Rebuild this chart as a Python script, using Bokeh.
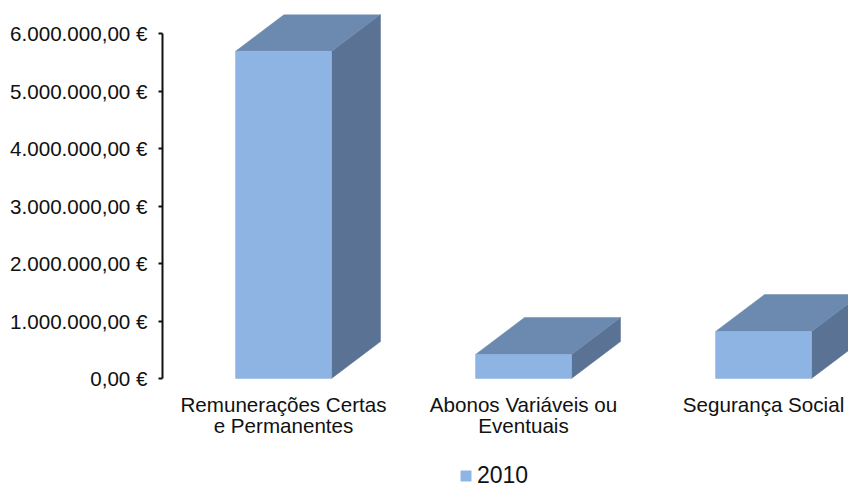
from bokeh.plotting import figure
from bokeh.models import FixedTicker, Legend, LegendItem, ColumnDataSource, Range1d, LinearAxis
from bokeh.embed import file_html
from bokeh.resources import INLINE

categories = ["Remunerações Certas\ne Permanentes", "Abonos Variáveis ou\nEventuais", "Segurança Social"]
series_name = "2010"
values = [5690000, 417000, 817000]
y_ticks = [0, 1000000, 2000000, 3000000, 4000000, 5000000, 6000000]
y_labels = ["0,00 €", "1.000.000,00 €", "2.000.000,00 €", "3.000.000,00 €",
            "4.000.000,00 €", "5.000.000,00 €", "6.000.000,00 €"]

FONT = "Liberation Sans"
BAR_W = 96 / 240
DX = 49 / 240
UNIT = 6000000 / 345
DY = 37 * UNIT

xs = list(range(len(values)))
src = ColumnDataSource(dict(x=xs, top=values))

p = figure(width=848, height=489, output_backend="svg", toolbar_location=None,
           x_range=Range1d((162 - 283) / 240, (848 - 283) / 240),
           y_range=Range1d(-111 * UNIT, 364 * UNIT),
           x_axis_location=None,
           min_border_left=162, min_border_right=0, min_border_top=14, min_border_bottom=0,
           outline_line_color=None, background_fill_color="white", border_fill_color="white")
p.grid.visible = False

# side and top faces of each 3D bar
side_x, side_y, top_x, top_y = [], [], [], []
for x, v in zip(xs, values):
    l, r = x - BAR_W / 2, x + BAR_W / 2
    side_x.append([r, r + DX, r + DX, r])
    side_y.append([0, DY, v + DY, v])
    top_x.append([l, r, r + DX, l + DX])
    top_y.append([v, v, v + DY, v + DY])
p.patches(side_x, side_y, fill_color="#5A7394", line_color="#5A7394", line_width=0.5)
p.patches(top_x, top_y, fill_color="#6C8AB0", line_color="#6C8AB0", line_width=0.5)
front = p.vbar(x="x", top="top", bottom=0, width=BAR_W, source=src,
               fill_color="#8EB4E3", line_color="#8EB4E3", line_width=0.5)

ya = p.yaxis[0]
ya.ticker = FixedTicker(ticks=y_ticks)
ya.major_label_overrides = {t: s for t, s in zip(y_ticks, y_labels)}
ya.bounds = (0, 6000000)
ya.axis_line_color = "#111111"
ya.axis_line_width = 2
ya.major_tick_line_color = "#111111"
ya.major_tick_line_width = 2
ya.major_tick_in = 0
ya.major_tick_out = 4
ya.minor_tick_line_color = None
ya.major_label_standoff = 11
ya.major_label_text_font = FONT
ya.major_label_text_font_size = "20.6px"
ya.major_label_text_color = "#111111"

xa = LinearAxis(fixed_location=0, ticker=FixedTicker(ticks=xs),
                major_label_overrides={i: c for i, c in zip(xs, categories)},
                axis_line_color=None, major_tick_line_color=None, minor_tick_line_color=None,
                major_label_standoff=8, major_label_text_font=FONT,
                major_label_text_font_size="20.6px", major_label_text_color="#111111",
                major_label_text_line_height=0.94)
p.add_layout(xa, "below")

legend = Legend(items=[LegendItem(label=series_name, renderers=[front])],
                location=(297, 0), orientation="horizontal",
                glyph_width=13, glyph_height=13, label_standoff=5,
                label_text_font=FONT, label_text_font_size="23px", label_text_color="#111111",
                border_line_color=None, background_fill_alpha=0, margin=0, padding=0, spacing=0)
p.add_layout(legend, "center")

open("out.html", "w").write(file_html(p, INLINE))
